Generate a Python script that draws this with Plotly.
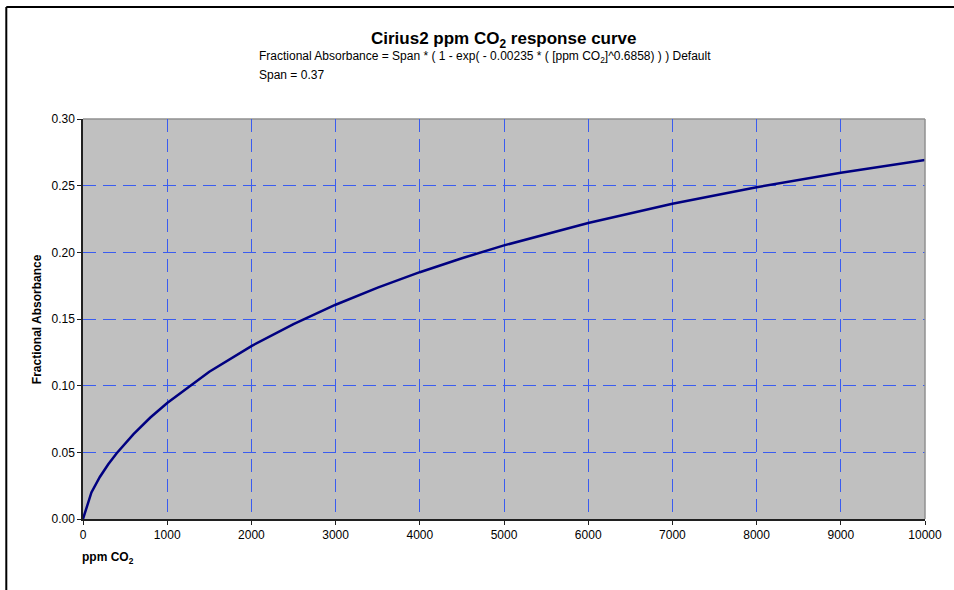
import plotly.graph_objects as go

# Values
ppm_co2 = [0, 100, 200, 300, 400, 500, 600, 800, 1000, 1500, 2000, 2500, 3000,
           3500, 4000, 4500, 5000, 6000, 7000, 8000, 9000, 10000]
fractional_absorbance = [0.0, 0.0199, 0.0315, 0.0410, 0.0493, 0.0568, 0.0637, 0.0761,
                         0.0870, 0.1104, 0.1297, 0.1462, 0.1607, 0.1735, 0.1851,
                         0.1956, 0.2052, 0.2220, 0.2364, 0.2488, 0.2597, 0.2692]
x_ticks = [0, 1000, 2000, 3000, 4000, 5000, 6000, 7000, 8000, 9000, 10000]
y_ticks = [0.00, 0.05, 0.10, 0.15, 0.20, 0.25, 0.30]

FONT = "Liberation Sans, Arial, sans-serif"
GRID = "#3a5cf0"

fig = go.Figure()
fig.add_trace(go.Scatter(x=ppm_co2, y=fractional_absorbance, mode="lines",
                         line=dict(color="#000080", width=2.5), showlegend=False))

fig.update_layout(
    width=954, height=590,
    margin=dict(l=83, r=23, t=119, b=71),
    paper_bgcolor="white", plot_bgcolor="#c0c0c0",
    font=dict(family=FONT, size=12, color="black"),
    xaxis=dict(range=[0, 10000], tickvals=x_ticks, ticktext=[str(v) for v in x_ticks],
               showgrid=True, gridcolor=GRID, griddash="13px,7px", gridwidth=1,
               showline=True, linecolor="#202020", linewidth=1.5,
               ticks="outside", ticklen=4, tickcolor="#202020", zeroline=False,
               tickfont=dict(size=12)),
    yaxis=dict(range=[0, 0.30], tickvals=y_ticks, ticktext=[f"{v:.2f}" for v in y_ticks],
               showgrid=True, gridcolor=GRID, griddash="13px,7px", gridwidth=1,
               showline=True, linecolor="#202020", linewidth=1.5,
               ticks="outside", ticklen=4, tickcolor="#202020", zeroline=False,
               tickfont=dict(size=12)),
)

# plot-area top/right border (gray) and outer frame
fig.add_shape(type="line", xref="paper", yref="paper", x0=0, x1=1, y0=1, y1=1,
              line=dict(color="#909090", width=1.5), layer="below")
fig.add_shape(type="line", xref="paper", yref="paper", x0=1, x1=1, y0=0, y1=1,
              line=dict(color="#909090", width=1.5), layer="above")
fig.add_shape(type="line", xref="paper", yref="paper", x0=-0.0911, x1=1.05, y0=1.28, y1=1.28,
              line=dict(color="black", width=2))
fig.add_shape(type="line", xref="paper", yref="paper", x0=-0.0911, x1=-0.0911, y0=1.28, y1=-0.2,
              line=dict(color="black", width=2))

fig.add_annotation(text="<b>Cirius2 ppm CO<sub>2</sub> response curve</b>", xref="paper", yref="paper",
                   x=0.5, y=1.1975, xanchor="center", yanchor="middle", showarrow=False,
                   font=dict(size=17))
fig.add_annotation(text="Fractional Absorbance = Span * ( 1 - exp( - 0.00235 * ( [ppm CO<sub>2</sub>]^0.6858) ) ) Default",
                   xref="paper", yref="paper", x=0.2071, y=1.155, xanchor="left", yanchor="middle",
                   showarrow=False, font=dict(size=12))
fig.add_annotation(text="Span = 0.37", xref="paper", yref="paper", x=0.2071, y=1.11,
                   xanchor="left", yanchor="middle", showarrow=False, font=dict(size=12))
fig.add_annotation(text="<b>ppm CO<sub>2</sub></b>", xref="paper", yref="paper", x=-0.004, y=-0.0975,
                   xanchor="left", yanchor="middle", showarrow=False, font=dict(size=12))
fig.add_annotation(text="<b>Fractional Absorbance</b>", xref="paper", yref="paper", x=-0.0544, y=0.5,
                   xanchor="center", yanchor="middle", textangle=-90, showarrow=False,
                   font=dict(size=12))

fig.write_html("out.html", config={"displayModeBar": False},
               post_script="document.body.style.margin='0px';")
